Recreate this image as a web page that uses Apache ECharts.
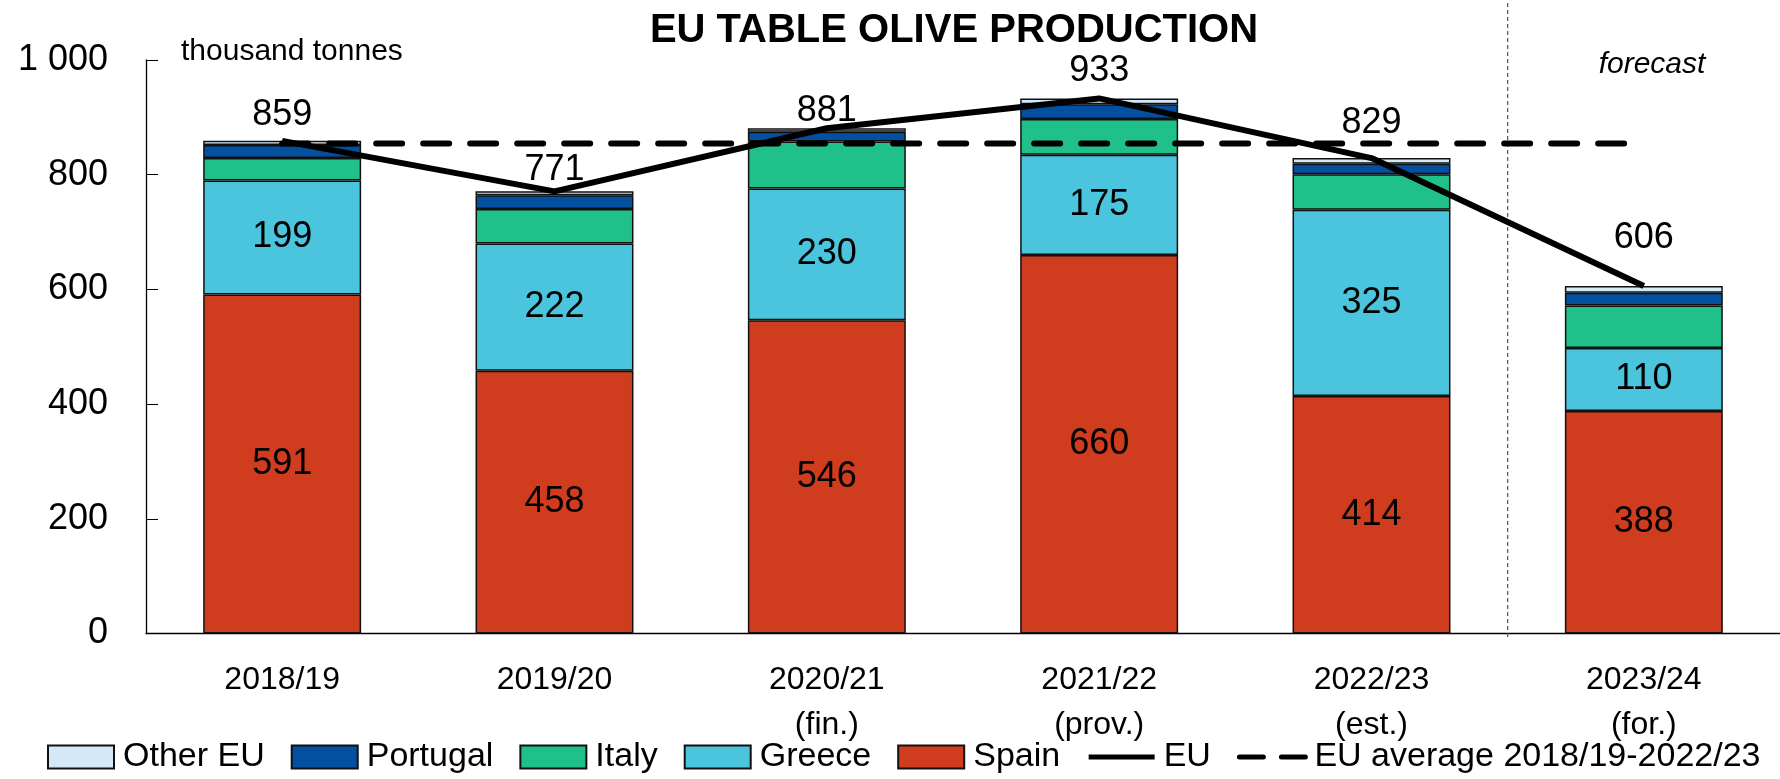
<!DOCTYPE html>
<html>
<head>
<meta charset="utf-8">
<title>EU table olive production</title>
<script src="https://cdn.jsdelivr.net/npm/echarts@6/dist/echarts.min.js"></script>
<style>
  html, body { margin: 0; padding: 0; background: #fff; }
  #chart-container { width: 1780px; height: 779px; }
</style>
</head>
<body>
<div id="chart-container"></div>
<script>
const years = ['2018/19', '2019/20', '2020/21\n(fin.)', '2021/22\n(prov.)', '2022/23\n(est.)', '2023/24\n(for.)'];

// thousand tonnes
const spain = [591, 458, 546, 660, 414, 388];
const greece = [199, 222, 230, 175, 325, 110];
const italy = [39, 60, 82, 62, 62, 74];
const portugal = [23, 24, 17, 26, 18, 22];
const otherEU = [7, 7, 6, 10, 10, 12];
const euTotal = [859, 771, 881, 933, 829, 606];
const euAverage = [854.6, 854.6, 854.6, 854.6, 854.6, 854.6];

// forecast divider sits on the boundary before the last season
const forecastStart = 5;

const FONT = '"Liberation Sans", Arial, sans-serif';

function buildBar(name, color, data, showLabel) {
  return {
    name,
    type: 'bar',
    stack: 'eu',
    barWidth: '58%',
    itemStyle: {
      color,
      borderColor: '#111',
      borderWidth: 1.5
    },
    label: {
      show: showLabel,
      position: 'inside',
      color: '#000',
      fontFamily: FONT,
      fontSize: 36
    },
    emphasis: { disabled: true },
    data
  };
}

function init() {
  // the EU total is written above each stack, nudged clear of the EU line
  let totalGap = [8, 3, -1, 9, 17, 30];
  let otherSeries = buildBar('Other EU', '#d5e8f8', otherEU.map((v, i) => ({
    value: v,
    label: { distance: totalGap[i] }
  })), true);
  otherSeries.label = {
    show: true,
    position: 'top',
    color: '#000',
    fontFamily: FONT,
    fontSize: 36,
    formatter: (p) => euTotal[p.dataIndex]
  };

  let series = [
    buildBar('Spain', '#cf3c1e', spain, true),
    buildBar('Greece', '#4bc4dd', greece, true),
    buildBar('Italy', '#1fc08a', italy, false),
    buildBar('Portugal', '#0450a0', portugal, false),
    otherSeries,
    {
      name: 'EU',
      type: 'line',
      symbol: 'none',
      z: 5,
      lineStyle: { color: '#000', width: 6 },
      itemStyle: { color: '#000' },
      data: euTotal
    },
    {
      name: 'EU average 2018/19-2022/23',
      type: 'line',
      symbol: 'none',
      z: 4,
      lineStyle: { color: '#000', width: 6, type: [26, 21], cap: 'round' },
      itemStyle: { color: '#000' },
      data: euAverage
    },
    {
      name: 'divider',
      type: 'line',
      xAxisIndex: 1,
      symbol: 'none',
      silent: true,
      clip: false,
      z: 1,
      lineStyle: { color: '#555', width: 1.2, type: [4, 3] },
      data: [[forecastStart, -6], [forecastStart, 1102]]
    }
  ];

  let option = {
    animation: false,
    textStyle: { fontFamily: FONT },
    graphic: [
      {
        type: 'text',
        x: 954,
        y: 11,
        style: {
          text: 'EU TABLE OLIVE PRODUCTION',
          font: 'bold 40px ' + FONT,
          fill: '#000',
          textAlign: 'center',
          textVerticalAlign: 'top'
        }
      },
      {
        type: 'text',
        x: 181,
        y: 37,
        style: {
          text: 'thousand tonnes',
          font: '30px ' + FONT,
          fill: '#000',
          textVerticalAlign: 'top'
        }
      },
      {
        type: 'text',
        x: 1652,
        y: 50,
        style: {
          text: 'forecast',
          font: 'italic 30px ' + FONT,
          fill: '#000',
          textAlign: 'center',
          textVerticalAlign: 'top'
        }
      }
    ],
    legend: {
      left: 47,
      top: 740,
      width: 1733,
      padding: 0,
      itemWidth: 66,
      itemHeight: 23,
      itemGap: 26,
      selectedMode: false,
      data: [
        { name: 'Other EU', icon: 'rect' },
        { name: 'Portugal', icon: 'rect' },
        { name: 'Italy', icon: 'rect' },
        { name: 'Greece', icon: 'rect' },
        { name: 'Spain', icon: 'rect' },
        { name: 'EU', itemStyle: { opacity: 0 }, lineStyle: { width: 5 } },
        {
          name: 'EU average 2018/19-2022/23',
          itemStyle: { opacity: 0 },
          lineStyle: { width: 5, type: [24, 18], cap: 'round' }
        }
      ],
      textStyle: {
        fontFamily: FONT,
        fontSize: 34,
        color: '#000',
        padding: [0, 0, 0, 4]
      }
    },
    grid: {
      left: 146,
      top: 60,
      width: 1647,
      height: 573.5
    },
    xAxis: [
      {
        type: 'category',
        data: years,
        axisLine: { lineStyle: { color: '#000', width: 1.3 } },
        axisTick: { inside: true, length: 11, lineStyle: { color: '#000' } },
        axisLabel: {
          color: '#000',
          fontFamily: FONT,
          fontSize: 32,
          lineHeight: 45,
          verticalAlign: 'top',
          margin: 24,
          interval: 0
        }
      },
      {
        type: 'value',
        min: 0,
        max: 6,
        show: false
      }
    ],
    yAxis: {
      type: 'value',
      min: 0,
      max: 1000,
      interval: 200,
      splitLine: { show: false },
      axisLine: { show: true, lineStyle: { color: '#000', width: 1.3 } },
      axisTick: { show: true, inside: true, length: 12, lineStyle: { color: '#000' } },
      axisLabel: {
        color: '#000',
        fontFamily: FONT,
        fontSize: 36,
        margin: 38,
        formatter: (v) => String(v).replace(/\B(?=(\d{3})+(?!\d))/g, ' ')
      }
    },
    series
  };

  var myChart = echarts.init(document.getElementById('chart-container'));
  myChart.setOption(option);
  window.addEventListener('resize', myChart.resize);
}
init();
</script>
</body>
</html>
